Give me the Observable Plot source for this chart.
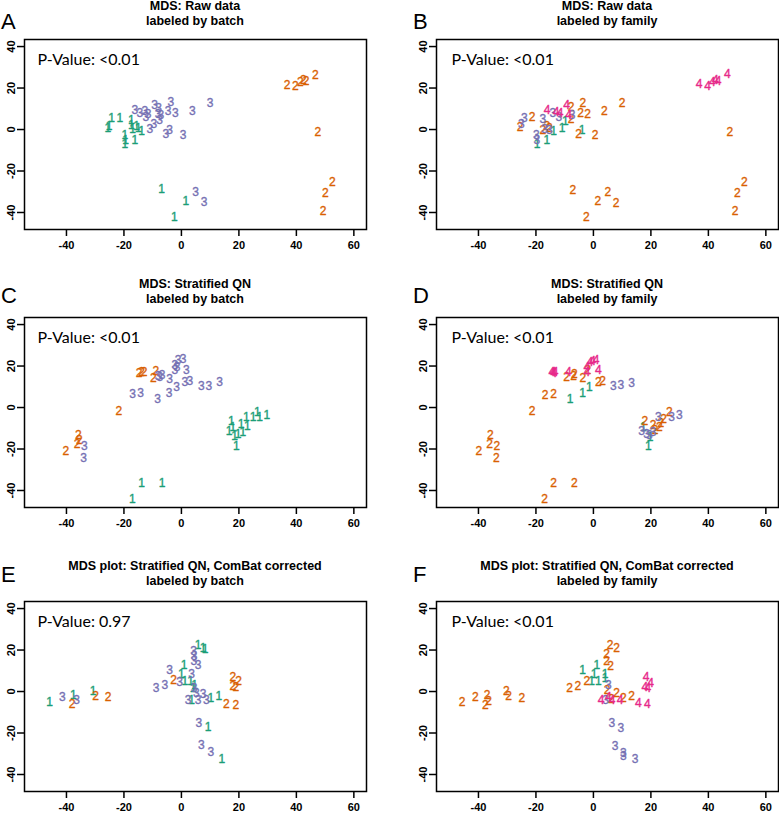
<!DOCTYPE html>
<html><head><meta charset="utf-8">
<script src="https://cdn.jsdelivr.net/npm/d3@7"></script>
<script src="https://cdn.jsdelivr.net/npm/@observablehq/plot@0.6"></script>
<style>
body{margin:0;background:#fff;}
#wrap{position:relative;width:779px;height:814px;overflow:hidden;font-family:"Liberation Sans",Arial,sans-serif;color:#000;}
.panel{position:absolute;}
.title{position:absolute;width:342px;text-align:center;font-weight:bold;font-size:12.5px;line-height:15px;white-space:nowrap;}
.letter{position:absolute;font-size:22px;line-height:22px;}
</style></head><body><div id="wrap"></div><script>
// ---------- data ----------
const groupKeys = ["1","2","3","4"];
const groupColors = ["#1B9E77","#D95F02","#7570B3","#E7298A"];
const xTicks = [-40,-20,0,20,40,60];
const yTicks = [-40,-20,0,20,40];
const xDomain = [-54.6, 64.4];
const yDomain = [-48.2, 43.4];
const panelLetters = ["A","B","C","D","E","F"];
const titleLine1 = ["MDS: Raw data","MDS: Raw data","MDS: Stratified QN","MDS: Stratified QN","MDS plot: Stratified QN, ComBat corrected","MDS plot: Stratified QN, ComBat corrected"];
const titleLine2 = ["labeled by batch","labeled by family","labeled by batch","labeled by family","labeled by batch","labeled by family"];
const pValues = ["P-Value: <0.01","P-Value: <0.01","P-Value: <0.01","P-Value: <0.01","P-Value: 0.97","P-Value: <0.01"];

// Panel A (batch)
const A1 = [[-25.2,1.6],[-25.6,0.5],[-24.3,5.6],[-21.4,5.6],[-17.4,4.7],[-17.4,1.9],[-17.0,0.0],[-15.6,1.6],[-15.0,0.6],[-13.9,-1.0],[-19.7,-2.9],[-19.4,-5.0],[-19.7,-6.9],[-16.2,-5.3],[-6.9,-28.7],[1.5,-34.4],[-2.5,-42.1]];
const A2 = [[36.8,21.6],[39.6,21.1],[41.4,22.9],[42.4,23.7],[43.4,23.4],[46.6,26.3],[47.5,-1.5],[52.5,-25.6],[50.1,-30.5],[49.3,-39.5]];
const A3 = [[-16.2,9.2],[-14.5,8.1],[-12.7,8.9],[-11.6,7.6],[-12.4,6.0],[-9.3,11.9],[-7.9,10.5],[-8.1,7.6],[-7.2,6.8],[-7.6,4.7],[-9.6,2.7],[-3.7,13.2],[-4.6,8.7],[-2.1,8.1],[3.8,8.9],[10.0,12.9],[-11.0,0.3],[-4.1,-0.2],[-5.4,-2.4],[0.6,-2.6],[4.9,-30.2],[7.9,-35.0]];
// Panel B (family)
const B1 = [[-10.9,0.6],[-9.8,3.9],[-3.9,-0.5],[-16.2,-5.3],[-19.6,-6.9],[-13.9,-0.8]];
const B2 = [[-25.5,1.1],[-21.3,6.0],[-16.2,1.5],[-17.6,-0.5],[-15.3,0.8],[-7.8,10.8],[-7.8,5.2],[-3.7,12.7],[-4.5,8.1],[-2.0,7.6],[3.8,8.9],[10.0,12.7],[-5.2,-2.4],[0.6,-2.9],[47.5,-1.3],[52.5,-25.6],[50.1,-30.5],[49.3,-39.5],[-7.2,-29.0],[5.0,-30.3],[1.5,-34.7],[7.9,-35.3],[-2.5,-42.1]];
const B3 = [[-24.0,5.5],[-25.1,2.7],[-17.6,4.8],[-14.1,8.1],[-12.0,6.0],[-7.4,6.8],[-17.0,0.3],[-19.9,-2.6],[-19.7,-5.3],[-15.3,-0.5]];
const B4 = [[36.8,21.8],[39.7,21.1],[41.4,22.9],[42.4,23.7],[43.4,23.4],[46.6,26.6],[-16.1,9.2],[-13.0,8.4],[-11.6,8.1],[-9.3,11.6],[-8.6,6.8]];
// Panel C (batch)
const C1 = [[17.4,-6.8],[16.6,-11.3],[17.9,-9.7],[18.5,-13.7],[19.1,-18.6],[19.7,-12.9],[20.8,-8.1],[21.4,-12.1],[22.9,-8.9],[22.6,-4.8],[24.9,-4.8],[26.4,-2.4],[27.2,-4.8],[29.7,-3.6],[-17.1,-44.1],[-13.9,-36.7],[-6.7,-36.3]];
const C2 = [[-14.7,16.5],[-13.9,17.0],[-13.0,17.0],[-8.9,17.3],[-9.8,14.2],[-21.8,-1.6],[-35.9,-13.2],[-36.3,-17.8],[-40.2,-21.0],[-35.5,-15.5]];
const C3 = [[-8.1,14.9],[-6.7,15.7],[-7.5,14.5],[-4.1,13.7],[-2.3,20.2],[-1.2,22.6],[0.6,23.1],[-2.3,17.8],[1.7,18.1],[1.2,12.4],[2.9,12.9],[-1.7,9.7],[-4.3,6.8],[-17.0,6.5],[-14.2,6.8],[-8.3,4.0],[6.9,10.2],[9.5,10.3],[13.3,12.1],[-33.8,-18.6],[-34.0,-24.2],[-1.5,19.5]];
// Panel D (family)
const D1 = [[-8.1,4.0],[-3.8,6.8],[-1.4,10.0],[17.4,-9.7],[19.7,-14.5],[19.1,-18.6]];
const D2 = [[-9.3,14.5],[-6.9,15.3],[-6.6,16.2],[-3.7,14.2],[-1.9,18.1],[1.7,12.1],[3.2,12.6],[-16.8,6.1],[-13.9,6.5],[-21.3,-1.6],[-35.9,-13.2],[-36.1,-17.8],[-33.6,-18.4],[-39.9,-21.0],[-33.8,-24.6],[-13.9,-36.7],[-6.6,-36.3],[-17.0,-44.1],[17.9,-6.5],[20.8,-8.4],[22.9,-9.4],[24.4,-5.7],[26.4,-2.4],[21.5,-11.0],[23.5,-7.5]];
const D3 = [[6.9,10.5],[9.5,10.8],[13.3,11.8],[16.8,-11.6],[18.5,-12.9],[20.8,-12.1],[22.6,-4.5],[27.2,-4.5],[29.9,-3.6],[19.5,-13.5]];
const D4 = [[-14.5,17.0],[-14.0,17.2],[-13.3,17.0],[-13.8,16.5],[-8.7,17.0],[-2.3,19.7],[-1.2,21.8],[0.9,22.9],[1.7,17.8],[-2.3,17.0],[-0.3,22.5]];
// Panel E (batch)
const E1 = [[-45.9,-4.9],[-37.6,-1.6],[-30.7,0.3],[5.8,22.2],[7.5,20.7],[8.2,20.5],[0.9,12.6],[0.0,8.6],[1.2,5.2],[3.2,4.9],[4.1,1.6],[4.6,2.9],[3.5,-4.0],[10.2,-3.2],[13.0,-2.4],[9.3,-17.0],[14.1,-32.7]];
const E2 = [[-38.0,-6.1],[-29.9,-2.4],[-25.5,-2.9],[-2.7,5.7],[17.9,6.8],[19.9,4.9],[17.9,2.4],[18.9,1.9],[15.6,-6.0],[18.9,-6.5]];
const E3 = [[-41.4,-2.9],[-36.5,-4.0],[-8.8,1.6],[-5.8,2.9],[-4.1,10.5],[-0.6,4.4],[4.2,19.4],[4.4,17.0],[4.3,14.6],[5.8,12.5],[3.5,8.4],[4.4,1.6],[5.2,-0.8],[2.3,-4.0],[5.8,-4.0],[7.5,-1.3],[8.7,-4.0],[6.1,-15.4],[6.9,-25.9],[10.2,-29.4]];
// Panel F (family)
const F1 = [[-3.8,10.5],[1.2,12.6],[0.2,8.6],[-0.6,4.9],[1.7,5.2],[4.1,6.5],[4.1,8.5]];
const F2 = [[-45.7,-4.9],[-41.1,-2.9],[-37.0,-1.6],[-37.6,-6.5],[-36.5,-4.5],[-30.3,0.3],[-29.5,-2.4],[-24.9,-3.2],[-8.3,1.6],[-5.4,2.8],[-2.3,5.2],[4.6,18.1],[4.6,14.6],[6.0,12.1],[5.8,22.2],[8.1,20.7],[4.8,0.8],[8.1,-0.8],[10.4,-3.2],[13.3,-2.4],[6.2,-3.5]];
const F3 = [[5.2,3.2],[4.2,-4.2],[6.4,-15.4],[9.5,-17.5],[7.5,-26.2],[10.4,-29.9],[10.4,-31.0],[14.5,-32.7]];
const F4 = [[2.7,-4.4],[5.2,-2.9],[6.5,-4.0],[9.3,-4.0],[18.3,6.9],[19.9,4.0],[17.9,2.1],[18.9,1.5],[15.6,-5.7],[18.8,-6.1]];

const panelGroups = [
  [A1, A2, A3],
  [B1, B2, B3, B4],
  [C1, C2, C3],
  [D1, D2, D3, D4],
  [E1, E2, E3],
  [F1, F2, F3, F4]
];

// ---------- layout ----------
const colLeft = [0, 412];
const rowFrameTop = [39, 317, 601];
const rowTitleCenter = [6, 284, 566];
const rowLetterTop = [11, 285, 564];
const frameW = 342, frameH = 190;
const mL = 24, mR = 1, mT = 2, mB = 26;

const wrap = document.getElementById("wrap");

panelGroups.forEach((groups, p) => {
  const col = p % 2, row = Math.floor(p / 2);
  const data = [];
  groups.forEach((pts, gi) => pts.forEach(([x, y]) => data.push({x, y, g: groupKeys[gi]})));

  const svg = Plot.plot({
    width: mL + frameW + mR,
    height: mT + frameH + mB,
    marginLeft: mL, marginRight: mR, marginTop: mT, marginBottom: mB,
    x: {domain: xDomain, label: null},
    y: {domain: yDomain, label: null},
    color: {domain: groupKeys, range: groupColors},
    style: {fontFamily: "'Liberation Sans', Arial, sans-serif", background: "transparent", overflow: "visible", color: "#000"},
    marks: [
      Plot.axisX({ticks: xTicks, tickSize: 7, tickPadding: 5, tickFormat: d => String(d), fontSize: 11, fontWeight: "bold", strokeWidth: 1.5, label: null}),
      Plot.axisY({ticks: yTicks, tickSize: 7, tickPadding: 3, tickRotate: -90, tickFormat: d => String(d), fontSize: 11, fontWeight: "bold", strokeWidth: 1.5, label: null}),
      Plot.text(data, {x: "x", y: "y", text: "g", fill: "g", stroke: "g", strokeWidth: 0.35, fontSize: 12, fontWeight: "normal"}),
      Plot.text([pValues[p]], {frameAnchor: "top-left", text: d => d, dx: col ? 15 : 13, dy: 20, textAnchor: "start", lineAnchor: "middle", fontSize: 16, fontFamily: "Lato, 'Open Sans', sans-serif", fill: "#000"}),
      Plot.frame({stroke: "#000", strokeWidth: 1.5})
    ]
  });
  const div = document.createElement("div");
  div.className = "panel";
  div.style.left = colLeft[col] + "px";
  div.style.top = (rowFrameTop[row] - mT) + "px";
  div.appendChild(svg);
  wrap.appendChild(div);

  const t = document.createElement("div");
  t.className = "title";
  t.style.left = (colLeft[col] + mL) + "px";
  t.style.top = (rowTitleCenter[row] - 7.3) + "px";
  t.innerHTML = titleLine1[p] + "<br>" + titleLine2[p];
  wrap.appendChild(t);

  const l = document.createElement("div");
  l.className = "letter";
  l.style.left = (colLeft[col] + 1) + "px";
  l.style.top = rowLetterTop[row] + "px";
  l.textContent = panelLetters[p];
  wrap.appendChild(l);
});
</script></body></html>
